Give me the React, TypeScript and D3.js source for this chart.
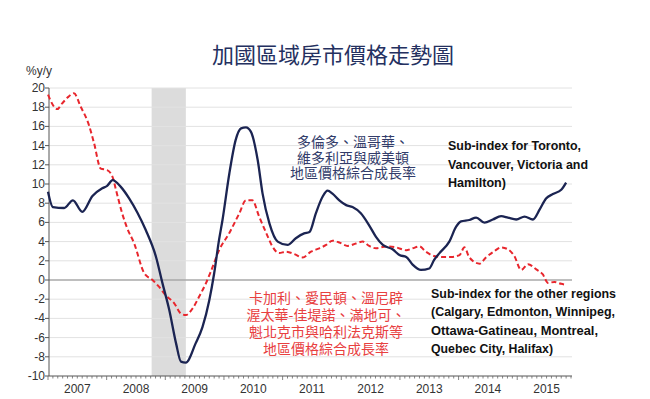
import React from "react";
import * as d3 from "d3";

// Month index: 0 = Jan 2007
const blueMonths = [0, 1, 3.3, 5.1, 7.0, 9.1, 11.1, 12.1, 13.2, 14.9, 16.6, 18.3, 20.0, 22.1, 23.4, 24.8, 26.2, 27.2, 28.2, 30.2, 31.6, 33.0, 34.0, 35.0, 35.7, 37.1, 38.4, 39.5, 40.5, 41.5, 42.9, 43.9, 45.3, 47.0, 49.0, 50.7, 52.4, 53.5, 54.8, 56.2, 57.2, 58.2, 59.6, 61.0, 62.3, 64.0, 65.7, 67.1, 68.5, 70.5, 71.9, 73.3, 74.6, 76.3, 78.0, 79.0, 80.1, 82.1, 83.5, 84.5, 86.2, 87.6, 89.3, 91.0, 92.7, 94.1, 95.8, 97.5, 99.2, 100.6, 101.9, 103.3, 105.0, 106.0];
const blueValues = [9.2, 7.6, 7.5, 8.3, 7.1, 8.75, 9.55, 9.8, 10.4, 9.7, 8.5, 7.0, 5.2, 2.4, -0.3, -3.1, -6.6, -8.5, -8.6, -6.6, -4.9, -2.1, 0.7, 4.2, 6.25, 11.1, 14.6, 15.8, 15.9, 15.45, 12.5, 9.0, 5.9, 4.0, 3.65, 4.35, 4.85, 5.0, 6.95, 8.7, 9.3, 9.0, 8.3, 7.8, 7.6, 6.95, 5.7, 4.5, 3.65, 3.2, 2.6, 2.4, 1.6, 1.05, 1.2, 2.1, 2.8, 4.0, 5.55, 6.1, 6.25, 6.5, 5.97, 6.3, 6.65, 6.5, 6.3, 6.6, 6.3, 7.35, 8.5, 8.95, 9.4, 10.15];

const redMonths = [0, 1.9, 2.9, 4.0, 5.3, 6.7, 8.4, 9.4, 10.8, 12.1, 13.2, 13.9, 15.2, 16.2, 17.6, 19.7, 21.4, 22.7, 24.1, 25.8, 27.2, 28.2, 29.6, 30.9, 32.3, 33.3, 35.0, 37.1, 39.1, 40.5, 41.8, 43.2, 44.9, 45.9, 47.3, 48.7, 50.4, 52.1, 53.8, 55.5, 56.9, 58.2, 59.6, 61.3, 63.0, 64.4, 65.7, 67.1, 69.2, 71.2, 73.3, 74.6, 76.0, 77.3, 79.0, 80.8, 82.5, 84.2, 85.2, 86.2, 88.3, 89.6, 91.3, 92.7, 94.1, 95.4, 96.8, 98.2, 99.9, 101.2, 102.3, 103.6, 105.0, 106.0];
const redValues = [19.3, 17.8, 18.4, 19.0, 19.45, 18.05, 16.1, 14.3, 11.6, 11.45, 10.75, 9.4, 6.9, 5.4, 3.85, 0.7, 0, -0.7, -1.6, -2.4, -3.5, -3.65, -2.95, -1.75, -0.35, 0.87, 3.1, 4.9, 6.9, 8.3, 8.3, 6.6, 4.6, 3.5, 2.8, 2.95, 2.7, 2.35, 2.95, 3.3, 3.65, 4.1, 3.9, 3.55, 3.8, 4.0, 3.55, 3.3, 3.5, 3.4, 3.1, 3.3, 3.5, 2.95, 2.5, 2.4, 2.4, 2.6, 3.4, 2.35, 1.7, 2.35, 3.0, 3.4, 3.2, 2.5, 1.05, 1.65, 1.1, 0.6, -0.3, -0.2, -0.4, -0.5];

const years = [2007, 2008, 2009, 2010, 2011, 2012, 2013, 2014, 2015];
const yTicks = [-10, -8, -6, -4, -2, 0, 2, 4, 6, 8, 10, 12, 14, 16, 18, 20];
const recessionMonths = [21.2, 28.2];

const title = "加國區域房市價格走勢圖";
const yUnit = "%y/y";
const navyNoteCn = ["多倫多、溫哥華、", "維多利亞與威美頓", "地區價格綜合成長率"];
const redNoteCn = ["卡加利、愛民頓、溫尼辟", "渥太華-佳堤諾、滿地可、", "魁北克市與哈利法克斯等", "地區價格綜合成長率"];
const navyNoteEn = ["Sub-index for Toronto,", "Vancouver, Victoria and", "Hamilton)"];
const navyNoteEnWidths = [133, 140, 58];
const redNoteEn = ["Sub-index for the other regions", "(Calgary, Edmonton, Winnipeg,", "Ottawa-Gatineau, Montreal,", "Quebec City, Halifax)"];
const redNoteEnWidths = [185, 184, 167, 122];

export default function App() {
  const W = 650, H = 399;
  const x = d3.scaleLinear().domain([0, 107]).range([48, 571]);
  const y = d3.scaleLinear().domain([-10, 20]).range([376, 88]);
  const left = 49, right = 572;

  const line = d3
    .line<[number, number]>()
    .x((d) => x(d[0]))
    .y((d) => y(d[1]))
    .curve(d3.curveMonotoneX);

  const blue = line(blueMonths.map((m, i) => [m, blueValues[i]]) as [number, number][]) || "";
  const red = line(redMonths.map((m, i) => [m, redValues[i]]) as [number, number][]) || "";

  const months = d3.range(0, 108);
  const sans = "'Liberation Sans', Arial, sans-serif";
  const cjk = "'Noto Sans CJK TC', 'Noto Sans CJK SC', sans-serif";

  return (
    <div style={{ position: "absolute", left: 0, top: 0 }}>
      <svg width={W} height={H} style={{ display: "block", background: "#fff" }}>
        <rect x={0} y={0} width={W} height={H} fill="#fff" />
        <text x={333} y={53} textAnchor="middle" dominantBaseline="central" fontFamily={cjk} fontSize={22} fill="#243060">
          {title}
        </text>
        <text x={26} y={71} dominantBaseline="central" fontFamily={sans} fontSize={12} fill="#333">
          {yUnit}
        </text>

        {/* recession band */}
        <rect
          x={x(recessionMonths[0])}
          y={y(20)}
          width={x(recessionMonths[1]) - x(recessionMonths[0])}
          height={y(-10) - y(20)}
          fill="#dcdcdc"
        />

        {/* gridlines */}
        {yTicks.map((t) =>
          t === 0 || t === -10 ? null : (
            <line key={"g" + t} x1={left} x2={right} y1={y(t)} y2={y(t)} stroke="#e2e2e2" strokeWidth={1} />
          )
        )}
        <line x1={left} x2={right} y1={y(0)} y2={y(0)} stroke="#a8a8a8" strokeWidth={1.3} />

        {/* y axis */}
        <line x1={left} x2={left} y1={y(20)} y2={y(-10)} stroke="#555" strokeWidth={1} />
        {yTicks.map((t) => (
          <g key={"yt" + t}>
            <line x1={left - 4} x2={left} y1={y(t)} y2={y(t)} stroke="#555" />
            <text x={45} y={y(t)} textAnchor="end" dominantBaseline="central" fontFamily={sans} fontSize={12} fill="#333">
              {String(t)}
            </text>
          </g>
        ))}

        {/* x axis */}
        <line x1={left} x2={right} y1={y(-10)} y2={y(-10)} stroke="#555" strokeWidth={1} />
        {months.map((m) => (
          <line key={"xt" + m} x1={x(m)} x2={x(m)} y1={y(-10)} y2={y(-10) + (m % 12 === 0 ? 4 : 2.5)} stroke="#666" strokeWidth={0.8} />
        ))}
        {years.map((yr) => (
          <text key={"yl" + yr} x={x((yr - 2007) * 12 + 6)} y={389} textAnchor="middle" dominantBaseline="central" fontFamily={sans} fontSize={12} fill="#333">
            {String(yr)}
          </text>
        ))}

        {/* series */}
        <path d={red} fill="none" stroke="#e8262d" strokeWidth={2} strokeDasharray="5,3" />
        <path d={blue} fill="none" stroke="#1b2452" strokeWidth={2.3} />

        {/* annotations */}
        {navyNoteCn.map((s, i) => (
          <text key={"nc" + i} x={353} y={141 + i * 15.5} textAnchor="middle" dominantBaseline="central" fontFamily={cjk} fontSize={14} fill="#323c6a">
            {s}
          </text>
        ))}
        {redNoteCn.map((s, i) => (
          <text key={"rc" + i} x={326} y={296.5 + i * 17.3} textAnchor="middle" dominantBaseline="central" fontFamily={cjk} fontSize={14} fill="#e8403f">
            {s}
          </text>
        ))}
        {navyNoteEn.map((s, i) => (
          <text key={"ne" + i} x={448} y={146 + i * 18.6} dominantBaseline="central" fontFamily={sans} fontWeight="bold" fontSize={12.5} fill="#111" textLength={navyNoteEnWidths[i]} lengthAdjust="spacingAndGlyphs">
            {s}
          </text>
        ))}
        {redNoteEn.map((s, i) => (
          <text key={"re" + i} x={431} y={294 + i * 18.45} dominantBaseline="central" fontFamily={sans} fontWeight="bold" fontSize={12.5} fill="#111" textLength={redNoteEnWidths[i]} lengthAdjust="spacingAndGlyphs">
            {s}
          </text>
        ))}
      </svg>
    </div>
  );
}
